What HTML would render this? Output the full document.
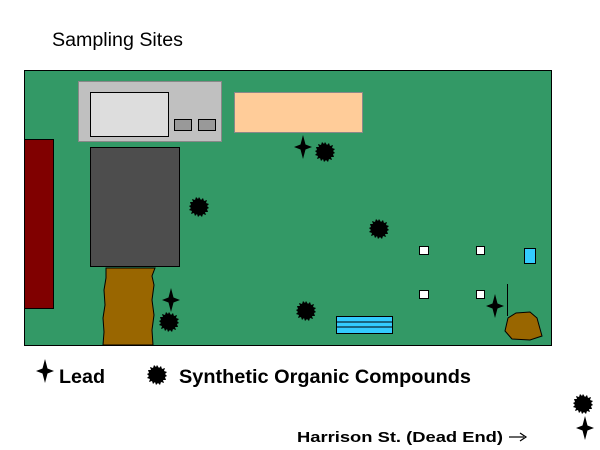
<!DOCTYPE html>
<html><head><meta charset="utf-8"><style>
html,body{margin:0;padding:0;background:#fff;width:600px;height:450px;overflow:hidden}
svg{display:block}
text{font-family:"Liberation Sans",Arial,sans-serif}
</style></head><body>
<svg width="600" height="450" viewBox="0 0 600 450" xmlns="http://www.w3.org/2000/svg">
<defs>
<path id="star" d="M0,-12 L2.5,-2.5 L9,0 L2.5,2.5 L0,12 L-2.5,2.5 L-9,0 L-2.5,-2.5 Z" fill="#000"/>
<polygon id="splat" fill="#000" points="0,-10 2,-7 4,-9 5,-6 8,-7 7,-4 10,-3 8,-1 10,1 8,2 9,5 6,5 7,8 4,7 3,10 1,8 -1,10 -2,7 -4,9 -5,6 -8,7 -7,4 -10,3 -8,1 -10,-1 -8,-2 -9,-5 -6,-5 -7,-8 -4,-7 -3,-10 -1,-8"/>
</defs>
<text x="52" y="46" font-size="19" textLength="131" lengthAdjust="spacingAndGlyphs">Sampling Sites</text>
<rect x="24.5" y="70.5" width="527" height="275" fill="#339966" stroke="#000"/>
<rect x="78.5" y="81.5" width="143" height="60" fill="#c0c0c0" stroke="#888"/>
<rect x="90.5" y="92.5" width="78" height="44" fill="#dddddd" stroke="#000"/>
<rect x="174.5" y="119.5" width="17" height="11" fill="#999" stroke="#000"/>
<rect x="198.5" y="119.5" width="17" height="11" fill="#999" stroke="#000"/>
<rect x="234.5" y="92.5" width="128" height="40" fill="#ffcc99" stroke="#888"/>
<rect x="24.5" y="139.5" width="29" height="169" fill="#800000" stroke="#000"/>
<rect x="90.5" y="147.5" width="89" height="119" fill="#4d4d4d" stroke="#000"/>
<path d="M106,268 L155,268 L152,276 L154,285 L152,300 L154,315 L152,330 L153,345 L103,345 L104,332 L103,318 L105,305 L104,290 L106,278 Z" fill="#996600" stroke="#000"/>
<rect x="419.5" y="246.5" width="9" height="8" fill="#fff" stroke="#000"/>
<rect x="476.5" y="246.5" width="8" height="8" fill="#fff" stroke="#000"/>
<rect x="419.5" y="290.5" width="9" height="8" fill="#fff" stroke="#000"/>
<rect x="476.5" y="290.5" width="8" height="8" fill="#fff" stroke="#000"/>
<rect x="524.5" y="248.5" width="11" height="15" fill="#33ccff" stroke="#000"/>
<rect x="336.5" y="316.5" width="56" height="17" fill="#33ccff" stroke="#000"/>
<line x1="336" y1="322" x2="392" y2="322" stroke="#000"/>
<line x1="336" y1="327" x2="392" y2="327" stroke="#000"/>
<line x1="507.5" y1="284" x2="507.5" y2="316" stroke="#000"/>
<path d="M508,318 L516,313 L530,312 L537,318 L542,336 L530,340 L512,339 L505,331 Z" fill="#996600" stroke="#000"/>
<use href="#star" x="303" y="147"/>
<use href="#star" x="171" y="300"/>
<use href="#star" x="495" y="306"/>
<use href="#star" x="45" y="371"/>
<use href="#star" x="585" y="428"/>
<use href="#splat" x="325" y="152"/>
<use href="#splat" x="199" y="207"/>
<use href="#splat" x="379" y="229"/>
<use href="#splat" x="169" y="322"/>
<use href="#splat" x="306" y="311"/>
<use href="#splat" x="157" y="375"/>
<use href="#splat" x="583" y="404"/>
<text x="59" y="383" font-size="19" font-weight="bold" textLength="46" lengthAdjust="spacingAndGlyphs">Lead</text>
<text x="179" y="383" font-size="19" font-weight="bold" textLength="292" lengthAdjust="spacingAndGlyphs">Synthetic Organic Compounds</text>
<text x="297" y="442" font-size="15" font-weight="bold" textLength="206" lengthAdjust="spacingAndGlyphs">Harrison St. (Dead End)</text>
<line x1="509" y1="437" x2="524" y2="437" stroke="#000" stroke-width="1.2"/>
<path d="M520,433 L526,437 L520,441" fill="none" stroke="#000" stroke-width="1.2"/>
</svg>
</body></html>
